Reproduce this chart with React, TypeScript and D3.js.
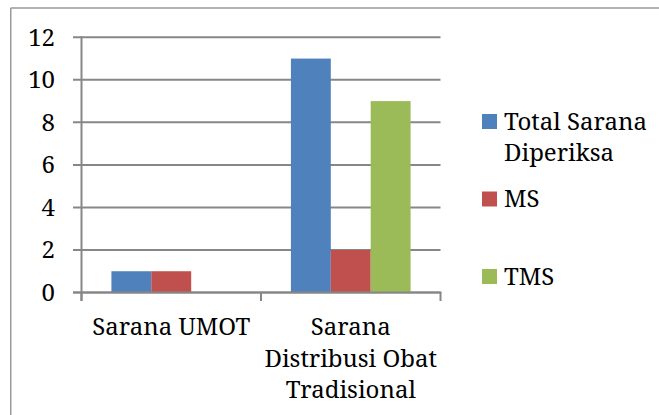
import React from "react";
import * as d3 from "d3";

const categories = ["Sarana UMOT", "Sarana Distribusi Obat Tradisional"];
const categoryLines = [["Sarana UMOT"], ["Sarana", "Distribusi Obat", "Tradisional"]];
const seriesNames = ["Total Sarana Diperiksa", "MS", "TMS"];
const legendLines = [["Total Sarana", "Diperiksa"], ["MS"], ["TMS"]];
const totalSarana = [1, 11];
const msValues = [1, 2];
const tmsValues = [0, 9];
const yTicks = [0, 2, 4, 6, 8, 10, 12];
const colors = ["#4F81BD", "#C0504D", "#9BBB59"];

const seriesValues = [totalSarana, msValues, tmsValues];

export default function App() {
  const W = 659, H = 415;
  const textStyle = { fontFamily: "'Noto Serif', 'DejaVu Serif', serif", fontSize: 24, fill: "#000" };
  const x0 = d3.scaleBand<string>().domain(categories).range([81.5, 440.5]).paddingInner(0).paddingOuter(0);
  const x1 = d3.scaleBand<string>().domain(seriesNames).range([0, x0.bandwidth()]).paddingInner(0).paddingOuter(0.75);
  const y = d3.scaleLinear().domain([0, 12]).range([292.5, 37.3]);
  const axisColor = "#878787";

  return (
    <svg width={W} height={H} style={{ position: "absolute", left: 0, top: 0, background: "#fff" }}>
      {/* outer frame */}
      <line x1={10.5} y1={8} x2={W} y2={8} stroke="#9a9a9a" strokeWidth={1.5} />
      <line x1={10.75} y1={8} x2={10.75} y2={H} stroke="#9a9a9a" strokeWidth={1.5} />
      {/* gridlines */}
      {yTicks.map((t) => (
        <line key={t} x1={73} x2={440.5} y1={y(t)} y2={y(t)} stroke={axisColor} strokeWidth={2} />
      ))}
      {/* bars */}
      {categories.map((c, ci) => (
        <g key={c}>
          {seriesNames.map((s, si) => {
            const v = seriesValues[si][ci];
            if (!v) return null;
            return (
              <rect
                key={s}
                x={(x0(c) as number) + (x1(s) as number)}
                y={y(v)}
                width={x1.bandwidth()}
                height={y(0) - y(v)}
                fill={colors[si]}
              />
            );
          })}
        </g>
      ))}
      {/* y axis */}
      <line x1={81.5} x2={81.5} y1={y(12) - 1} y2={301} stroke={axisColor} strokeWidth={2} />
      {/* x axis */}
      <line x1={73} x2={441.5} y1={y(0)} y2={y(0)} stroke={axisColor} strokeWidth={2} />
      {[...categories.map((c) => x0(c) as number), 440.5].map((tx, i) => (
        <line key={i} x1={tx} x2={tx} y1={y(0)} y2={301} stroke={axisColor} strokeWidth={2} />
      ))}
      {/* y tick labels */}
      {yTicks.map((t) => (
        <text key={t} x={55} y={y(t) + 8.5} textAnchor="end" style={textStyle}>
          {t}
        </text>
      ))}
      {/* x labels */}
      {categories.map((c, ci) => (
        <text key={c} textAnchor="middle" style={textStyle}>
          {categoryLines[ci].map((ln, li) => (
            <tspan key={li} x={(x0(c) as number) + x0.bandwidth() / 2} y={335 + li * 31.5}>
              {ln}
            </tspan>
          ))}
        </text>
      ))}
      {/* legend */}
      {seriesNames.map((s, si) => {
        const top = 114 + si * 77.5;
        return (
          <g key={s}>
            <rect x={482} y={top} width={15} height={15} fill={colors[si]} />
            <text style={textStyle}>
              {legendLines[si].map((ln, li) => (
                <tspan key={li} x={504} y={top + 15.5 + li * 31.5}>
                  {ln}
                </tspan>
              ))}
            </text>
          </g>
        );
      })}
    </svg>
  );
}
